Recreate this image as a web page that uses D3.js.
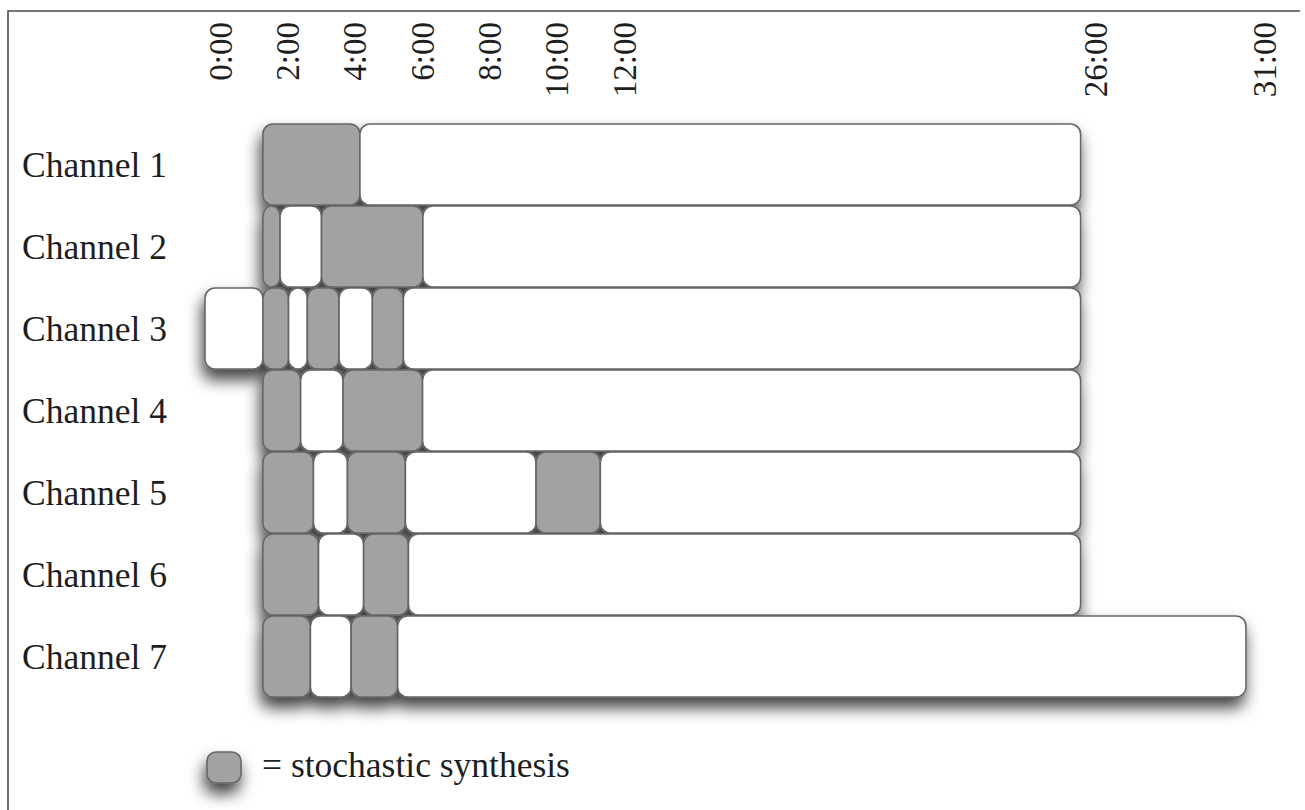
<!DOCTYPE html>
<html>
<head>
<meta charset="utf-8">
<script src="https://cdn.jsdelivr.net/npm/d3@7/dist/d3.min.js"></script>
<style>
  html, body { margin: 0; padding: 0; background: #fff; }
  svg { display: block; }
  text { font-family: "Liberation Serif", "Times New Roman", serif; fill: #1e1e1e; }
</style>
</head>
<body>
<script>
// ---- data (minutes) ----
const channels = ["Channel 1", "Channel 2", "Channel 3", "Channel 4", "Channel 5", "Channel 6", "Channel 7"];
// segment boundaries per channel, in minutes
const boundaries = [
  [1.72, 4.60, 26.0],
  [1.72, 2.23, 3.46, 6.47, 26.0],
  [0.0, 1.72, 2.48, 3.04, 3.98, 4.97, 5.89, 26.0],
  [1.72, 2.84, 4.10, 6.46, 26.0],
  [1.72, 3.22, 4.23, 5.95, 9.83, 11.74, 26.0],
  [1.72, 3.37, 4.71, 6.04, 26.0],
  [1.72, 3.13, 4.34, 5.72, 30.91]
];
// 1 = stochastic synthesis (gray), 0 = other (white), one per segment
const stochastic = [
  [1, 0],
  [1, 0, 1, 0],
  [0, 1, 0, 1, 0, 1, 0],
  [1, 0, 1, 0],
  [1, 0, 1, 0, 1, 0],
  [1, 0, 1, 0],
  [1, 0, 1, 0]
];
const tickValues = [0, 2, 4, 6, 8, 10, 12, 26, 31];
const tickLabels = ["0:00", "2:00", "4:00", "6:00", "8:00", "10:00", "12:00", "26:00", "31:00"];
const legendLabel = "= stochastic synthesis";

// ---- layout ----
const W = 1305, H = 810;
const svg = d3.select("body").append("svg").attr("width", W).attr("height", H);

const defs = svg.append("defs");
const f = defs.append("filter").attr("id", "shadow")
  .attr("filterUnits", "userSpaceOnUse")
  .attr("x", 0).attr("y", 0).attr("width", W).attr("height", H);
f.append("feDropShadow").attr("dx", -2).attr("dy", 10).attr("stdDeviation", 8)
  .attr("flood-color", "#000").attr("flood-opacity", 0.75);

const x = d3.scaleLinear().domain([0, 31]).range([205, 1249]);
const y = d3.scaleBand().domain(channels).range([124, 697]).paddingInner(1 / 82).paddingOuter(0);

const GRAY = "#a2a2a2", STROKE = "#666666";

// frame
svg.append("path").attr("d", "M8,810V11H1300")
  .attr("fill", "none").attr("stroke", "#4a4a4a").attr("stroke-width", 1.6);

// tick labels (rotated)
svg.append("g").selectAll("text").data(tickValues).join("text")
  .attr("transform", d => `translate(${x(d) + 15},22) rotate(-90)`)
  .attr("text-anchor", "end")
  .attr("dy", "0.35em")
  .attr("font-size", 33)
  .text((d, i) => tickLabels[i]);

// channel labels
svg.append("g").selectAll("text").data(channels).join("text")
  .attr("x", 22)
  .attr("y", d => y(d) + y.bandwidth() / 2)
  .attr("dy", "0.35em")
  .attr("font-size", 35.5)
  .text(d => d);

// segments
const segs = [];
channels.forEach((c, i) => {
  const b = boundaries[i];
  for (let k = 0; k < b.length - 1; k++) {
    segs.push({ channel: c, start: b[k], end: b[k + 1], stoch: stochastic[i][k] });
  }
});

const bars = svg.append("g").attr("filter", "url(#shadow)");
bars.selectAll("rect").data(segs).join("rect")
  .attr("x", d => x(d.start))
  .attr("y", d => y(d.channel))
  .attr("width", d => x(d.end) - x(d.start))
  .attr("height", y.bandwidth())
  .attr("rx", 10).attr("ry", 10)
  .attr("fill", d => d.stoch ? GRAY : "#ffffff")
  .attr("stroke", STROKE)
  .attr("stroke-width", 1.6);

// legend
const lg = svg.append("g");
lg.append("rect")
  .attr("x", 207).attr("y", 752).attr("width", 34).attr("height", 31)
  .attr("rx", 9).attr("ry", 9)
  .attr("fill", GRAY).attr("stroke", STROKE).attr("stroke-width", 1.6)
  .attr("filter", "url(#shadow)");
lg.append("text")
  .attr("x", 262).attr("y", 777)
  .attr("font-size", 35.5)
  .text(legendLabel);
</script>
</body>
</html>
